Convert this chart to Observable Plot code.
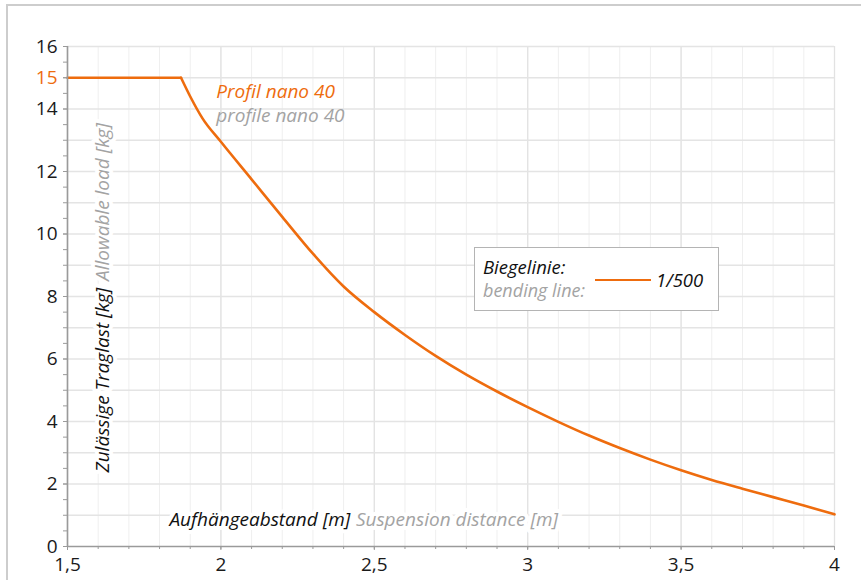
<!DOCTYPE html>
<html>
<head>
<meta charset="utf-8">
<script src="https://cdn.jsdelivr.net/npm/d3@7"></script>
<script src="https://cdn.jsdelivr.net/npm/@observablehq/plot@0.6"></script>
<style>
  html, body { margin: 0; padding: 0; background: #fff; }
  #wrap { position: relative; width: 861px; height: 580px; overflow: hidden; }
  #frame { position: absolute; left: 6px; top: 4px; right: -10px; bottom: -10px; border-top: 2px solid #cdcdcd; border-left: 2px solid #cdcdcd; pointer-events: none; }
  #legend { position: absolute; left: 474px; top: 247px; width: 243px; height: 62px; border: 1.3px solid #b4b4b4; background: #fff; font-family: "Open Sans", sans-serif; font-style: italic; font-size: 18px; }
  #legend .de { position: absolute; left: 8px; top: 6px; color: #111; font-size: 18.5px; }
  #legend .en { position: absolute; left: 8px; top: 30px; color: #a3a3a3; }
  #legend .sw { position: absolute; left: 120px; top: 31px; width: 56px; height: 0; border-top: 2.5px solid #ee6c0e; }
  #legend .val { position: absolute; left: 181px; top: 19px; color: #111; font-size: 18.5px; }
</style>
</head>
<body>
<div id="wrap">
  <div id="chart"></div>
  <div id="frame"></div>
  <div id="legend"><span class="de">Biegelinie:</span><span class="en">bending line:</span><span class="sw"></span><span class="val">1/500</span></div>
</div>
<script>
// Data
const distance = [1.5, 1.87, 1.9, 1.94, 2.0, 2.1, 2.2, 2.3, 2.4, 2.5, 2.6, 2.7, 2.8, 2.9, 3.0, 3.1, 3.2, 3.3, 3.4, 3.5, 3.6, 3.7, 3.8, 3.9, 4.0];
const load     = [15, 15, 14.4, 13.7, 12.95, 11.75, 10.55, 9.37, 8.32, 7.5, 6.77, 6.1, 5.5, 4.96, 4.46, 3.99, 3.55, 3.15, 2.78, 2.44, 2.13, 1.85, 1.58, 1.31, 1.03];
const plateauEnd = 1.87;

const xTicks = [1.5, 2, 2.5, 3, 3.5, 4];
const xTickLabels = ["1,5", "2", "2,5", "3", "3,5", "4"];
const yTicks = [0, 2, 4, 6, 8, 10, 12, 14, 16];
const yHighlightTick = [15];

const orange = "#ee6c0e";
const grayText = "#a3a3a3";

const data = distance.map((d, i) => ({distance: d, load: load[i]}));
const plateau = data.filter(d => d.distance <= plateauEnd);
const decline = data.filter(d => d.distance >= plateauEnd);
const xMinor = d3.range(15, 41).map(i => i / 10);
const xMajorGrid = d3.range(3, 9).map(i => i / 2);
const yMinor = d3.range(0, 33).map(i => i / 2);
const yGrid = d3.range(1, 17);

const chart = Plot.plot({
  width: 861,
  height: 580,
  marginLeft: 67,
  marginRight: 27,
  marginTop: 46,
  marginBottom: 34,
  x: {domain: [1.5, 4], label: null},
  y: {domain: [0, 16], label: null},
  style: {fontFamily: "'Open Sans', sans-serif", fontSize: "19px", color: "#1a1a1a", background: "transparent", overflow: "visible"},
  marks: [
    Plot.ruleX(xMinor, {stroke: "#efefef", strokeWidth: 1}),
    Plot.ruleX(xMajorGrid, {stroke: "#e2e2e2", strokeWidth: 1.3}),
    Plot.ruleY(yGrid, {stroke: "#e4e4e4", strokeWidth: 1.3}),
    // axis titles with white halo
    Plot.text(["Aufhängeabstand [m]"], {x: 2.422, y: 0.86, text: d => d, textAnchor: "end", fontStyle: "italic", fontSize: 19, fill: "#111", stroke: "white", strokeWidth: 8}),
    Plot.text(["Suspension distance [m]"], {x: 2.44, y: 0.86, text: d => d, textAnchor: "start", fontStyle: "italic", fontSize: 19, fill: grayText, stroke: "white", strokeWidth: 8}),
    Plot.text(["Allowable load [kg]"], {x: 1.617, y: 8.5, text: d => d, textAnchor: "start", rotate: -90, fontStyle: "italic", fontSize: 19, fill: grayText, stroke: "white", strokeWidth: 8}),
    Plot.text(["Zulässige Traglast [kg]"], {x: 1.617, y: 2.37, text: d => d, textAnchor: "start", rotate: -90, fontStyle: "italic", fontSize: 19, fill: "#111", stroke: "white", strokeWidth: 8}),
    // series annotation
    Plot.text(["Profil nano 40"], {x: 1.985, y: 14.55, text: d => d, textAnchor: "start", fontStyle: "italic", fontSize: 19, fill: orange}),
    Plot.text(["profile nano 40"], {x: 1.985, y: 13.77, text: d => d, textAnchor: "start", fontStyle: "italic", fontSize: 19, fill: grayText}),
    // curve: flat plateau then smooth decline
    Plot.line(plateau, {x: "distance", y: "load", stroke: orange, strokeWidth: 2.6, strokeLinecap: "round"}),
    Plot.line(decline, {x: "distance", y: "load", stroke: orange, strokeWidth: 2.6, curve: "monotone-x", strokeLinecap: "round"}),
    // axis lines
    Plot.ruleY([0], {stroke: "#9a9a9a", strokeWidth: 1.6}),
    Plot.ruleX([1.5], {stroke: "#9a9a9a", strokeWidth: 1.6}),
    // axes
    Plot.axisX(xMinor, {tickSize: 3, tickFormat: () => "", stroke: "#9a9a9a", label: null}),
    Plot.axisX(xTicks, {tickSize: 4, tickPadding: 7, tickFormat: (d, i) => xTickLabels[i], fontSize: 19, stroke: "#9a9a9a", fill: "#1a1a1a", label: null}),
    Plot.axisY(yMinor, {tickSize: 4, tickFormat: () => "", stroke: "#9a9a9a", label: null}),
    Plot.axisY(yTicks, {tickSize: 4, tickPadding: 6, fontSize: 19, stroke: "#9a9a9a", fill: "#1a1a1a", label: null}),
    Plot.axisY(yHighlightTick, {tickSize: 4, tickPadding: 6, fontSize: 19, stroke: "#9a9a9a", fill: orange, label: null})
  ]
});
document.getElementById("chart").appendChild(chart);
</script>
</body>
</html>
